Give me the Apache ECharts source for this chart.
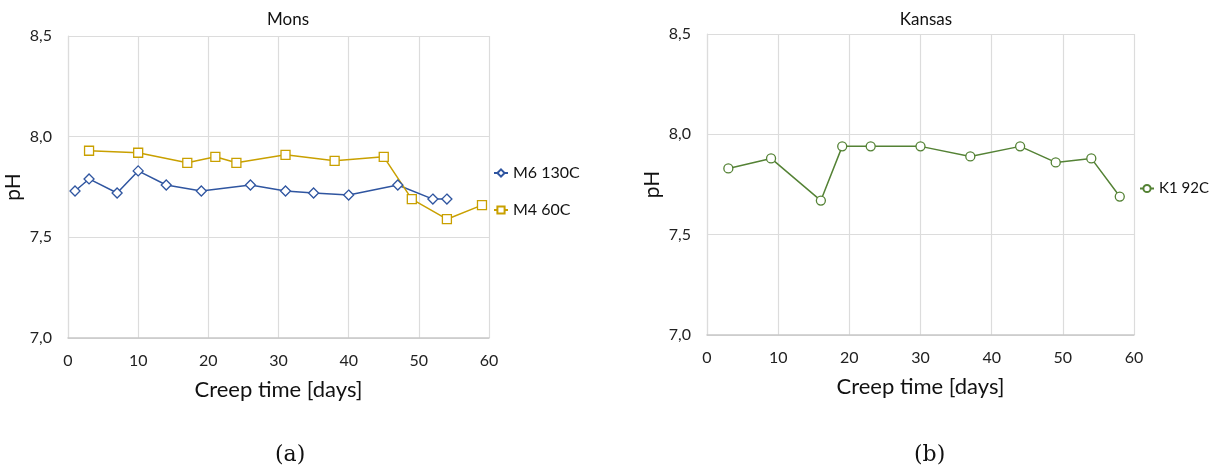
<!DOCTYPE html>
<html><head><meta charset="utf-8">
<script src="https://cdn.jsdelivr.net/npm/echarts@6/dist/echarts.min.js"></script>
<style>html,body{margin:0;padding:0;background:#fff}#c{width:1214px;height:472px}</style>
</head><body><div id="c"></div>
<script>
// Mons
const m6Days = [1, 3, 7, 10, 14, 19, 26, 31, 35, 40, 47, 52, 54];
const m6PH   = [7.73, 7.79, 7.72, 7.83, 7.76, 7.73, 7.76, 7.73, 7.72, 7.71, 7.76, 7.69, 7.69];
const m4Days = [3, 10, 17, 21, 24, 31, 38, 45, 49, 54, 59];
const m4PH   = [7.93, 7.92, 7.87, 7.90, 7.87, 7.91, 7.88, 7.90, 7.69, 7.59, 7.66];
// Kansas
const k1Days = [3, 9, 16, 19, 23, 30, 37, 44, 49, 54, 58];
const k1PH   = [7.83, 7.88, 7.67, 7.94, 7.94, 7.94, 7.89, 7.94, 7.86, 7.88, 7.69];
const xTicks = [0, 10, 20, 30, 40, 50, 60];
const yTicks = [7.0, 7.5, 8.0, 8.5];
const titles = ['Mons', 'Kansas'];
const captions = ['(a)', '(b)'];
const seriesNames = ['M6 130C', 'M4 60C', 'K1 92C'];

const pair = (xs, ys) => xs.map((x, i) => [x, ys[i]]);
const font = 'Lato, "Open Sans", sans-serif';
const grids = [
  {left: 68, top: 36, width: 421, height: 302},
  {left: 707, top: 34, width: 427, height: 301}
];
function xAxis(i) {
  return {type: 'value', gridIndex: i, min: xTicks[0], max: xTicks[xTicks.length-1], interval: 10,
    name: 'Creep time [days]', nameLocation: 'middle', nameGap: 41,
    nameTextStyle: {fontFamily: font, fontSize: 22, color: '#111'},
    axisLine: {lineStyle: {color: '#c8c8c8', width: 1.5}}, axisTick: {show: false},
    axisLabel: {fontFamily: font, fontSize: 16, color: '#222', margin: 15},
    splitLine: {lineStyle: {color: '#dcdcdc', width: 1.2}}};
}
function yAxis(i) {
  return {type: 'value', gridIndex: i, min: yTicks[0], max: yTicks[yTicks.length-1], interval: 0.5,
    name: 'pH', nameLocation: 'middle', nameGap: 44,
    nameTextStyle: {fontFamily: font, fontSize: 21, color: '#111'},
    axisLine: {show: true, lineStyle: {color: '#dcdcdc', width: 1.2}}, axisTick: {show: false},
    axisLabel: {fontFamily: font, fontSize: 16, color: '#222', margin: 16,
      formatter: v => v.toFixed(1).replace('.', ',')},
    splitLine: {lineStyle: {color: '#dcdcdc', width: 1.2}}};
}
function line(name, data, color, symbol, gi) {
  return {name, type: 'line', xAxisIndex: gi, yAxisIndex: gi, data, symbol, symbolSize: symbol === 'diamond' ? 10 : 9,
    showAllSymbol: true,
    lineStyle: {color, width: 1.5}, itemStyle: {color: '#fff', borderColor: color, borderWidth: 1.3},
    emphasis: {disabled: true}, animation: false};
}
const chart = echarts.init(document.getElementById('c'), null, {renderer: 'canvas'});
chart.setOption({
  animation: false,
  backgroundColor: '#fff',
  title: [
    {text: titles[0], left: 283, top: 6, textAlign: 'center', textStyle: {fontFamily: font, fontSize: 17, fontWeight: 'normal', color: '#111'}},
    {text: titles[1], left: 921, top: 6, textAlign: 'center', textStyle: {fontFamily: font, fontSize: 17, fontWeight: 'normal', color: '#111'}}
  ],
  grid: grids,
  xAxis: [xAxis(0), xAxis(1)],
  yAxis: [yAxis(0), yAxis(1)],
  legend: [
    {data: [seriesNames[0], seriesNames[1]], orient: 'vertical', left: 488, top: 160, itemGap: 21,
      itemWidth: 14, itemHeight: 9, textStyle: {fontFamily: font, fontSize: 16, color: '#111'}, selectedMode: false},
    {data: [seriesNames[2]], orient: 'vertical', left: 1134, top: 176, itemWidth: 14, itemHeight: 9,
      textStyle: {fontFamily: font, fontSize: 15, color: '#111'}, selectedMode: false}
  ],
  series: [
    line(seriesNames[0], pair(m6Days, m6PH), '#2f55a0', 'diamond', 0),
    line(seriesNames[1], pair(m4Days, m4PH), '#c9a000', 'rect', 0),
    line(seriesNames[2], pair(k1Days, k1PH), '#548235', 'circle', 1)
  ],
  graphic: [
    {type: 'text', left: 275, top: 444, style: {text: captions[0], font: '22px "DejaVu Serif", "Liberation Serif", serif', fill: '#111'}},
    {type: 'text', left: 914, top: 444, style: {text: captions[1], font: '22px "DejaVu Serif", "Liberation Serif", serif', fill: '#111'}}
  ]
});
</script></body></html>
